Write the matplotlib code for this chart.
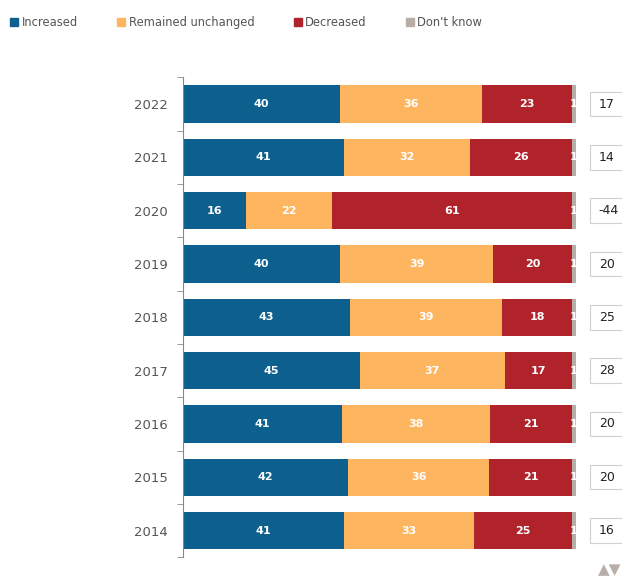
import matplotlib.pyplot as plt
from matplotlib.patches import Patch, Rectangle
import numpy as np

years = ['2022', '2021', '2020', '2019', '2018', '2017', '2016', '2015', '2014']
increased = [40, 41, 16, 40, 43, 45, 41, 42, 41]
unchanged = [36, 32, 22, 39, 39, 37, 38, 36, 33]
decreased = [23, 26, 61, 20, 18, 17, 21, 21, 25]
dont_know = [1, 1, 1, 1, 1, 1, 1, 1, 1]
net = [17, 14, -44, 20, 25, 28, 20, 20, 16]

labels = ['Increased', 'Remained unchanged', 'Decreased', "Don't know"]
colors = ['#0d5f8e', '#fdb55f', '#b0232a', '#b9ada8']
text_col = '#555555'

fig = plt.figure(figsize=(6.22, 5.78), dpi=100)
ax = fig.add_axes([0.294, 0.036, 0.632, 0.830])

y = np.arange(len(years))
series = [np.array(s, dtype=float) for s in [increased, unchanged, decreased, dont_know]]
totals = sum(series)
left = np.zeros(len(years))
for vals, col, lab in zip(series, colors, labels):
    widths = vals / totals * 100  # rows are rounded, so scale each to 100
    ax.barh(y, widths, left=left, height=0.70, color=col, label=lab)
    for yi, v, w, l in zip(y, vals, widths, left):
        ax.text(l + w / 2, yi, str(int(v)), ha='center', va='center',
                color='white', fontsize=8, fontweight='bold')
    left += widths

# net balance boxes on the right
for yi, n in zip(y, net):
    ax.add_patch(Rectangle((103.6, yi - 0.23), 12, 0.46, fc='white', ec='#d0d0d0',
                           lw=0.8, clip_on=False))
    ax.text(105.8, yi, str(n), ha='left', va='center', fontsize=9,
            color='#222222', clip_on=False)

ax.set_xlim(0, 100)
ax.set_ylim(len(years) - 0.5, -0.5)
ax.set_yticks(y)
ax.set_yticklabels(years, fontsize=9.5, color=text_col)
ax.set_yticks(np.arange(-0.5, len(years), 1), minor=True)
ax.tick_params(axis='y', which='major', length=0, pad=11)
ax.tick_params(axis='y', which='minor', length=4, color='#888888')
ax.set_xticks([])
for s in ['top', 'right', 'bottom']:
    ax.spines[s].set_visible(False)
ax.spines['left'].set_color('#888888')
ax.spines['left'].set_linewidth(0.8)

handles = [Patch(color=c) for c in colors]
fig.legend(handles, labels, loc='upper left', bbox_to_anchor=(0.0, 0.99), ncol=4,
           frameon=False, fontsize=8.3, handlelength=0.7, handleheight=0.7,
           handletextpad=0.3, columnspacing=3.4, labelcolor=text_col)

fig.text(0.999, 0.002, '▲▼', ha='right', va='bottom', fontsize=11, color='#b9ada8')

fig.savefig('out.png', dpi=100)
